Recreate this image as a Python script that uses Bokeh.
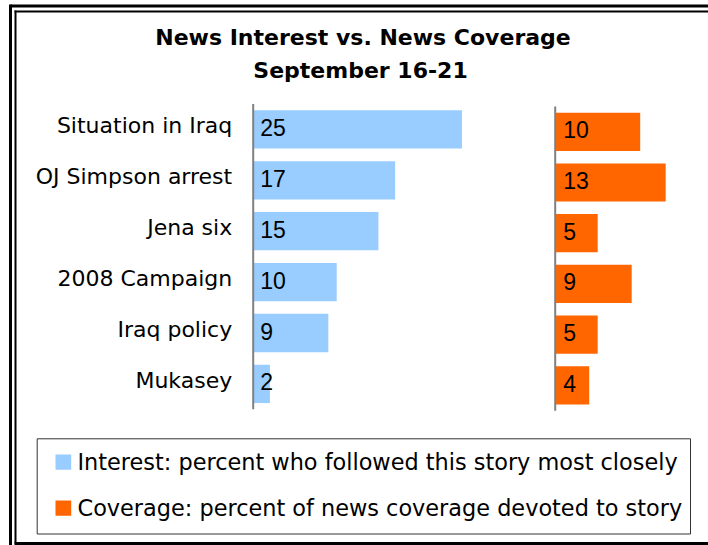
from bokeh.plotting import figure
from bokeh.models import Range1d, ColumnDataSource
from bokeh.core.properties import value
from bokeh.embed import file_html
from bokeh.resources import INLINE

# ---- data ----
categories = ["Situation in Iraq", "OJ Simpson arrest", "Jena six",
              "2008 Campaign", "Iraq policy", "Mukasey"]
interest = [25, 17, 15, 10, 9, 2]
coverage = [10, 13, 5, 9, 5, 4]
title_lines = ["News Interest vs. News Coverage", "September 16-21"]
legend_labels = ["Interest: percent who followed this story most closely",
                 "Coverage: percent of news coverage devoted to story"]

BLUE = "#99CCFF"
ORANGE = "#FF6600"
AXIS_GRAY = "#808080"

W, H = 708, 545
PX0, PY0 = 0, 0  # page position of the canvas' top-left corner
TXT_DY = -7      # correction for the renderer's text baseline placement


def xr(zero, ppu):
    return Range1d((PX0 - zero) / ppu, (PX0 + W - zero) / ppu)


def yr(c0, pitch):
    return Range1d((PY0 + H - c0) / pitch, (PY0 - c0) / pitch)


p = figure(width=W, height=H, x_range=xr(252.7, 8.35), y_range=yr(128.9, 50.9),
           output_backend="svg", toolbar_location=None,
           x_axis_type=None, y_axis_type=None, min_border=0,
           outline_line_color=None)
p.extra_x_ranges = {"rx": xr(554.7, 8.5), "px": Range1d(PX0, PX0 + W)}
p.extra_y_ranges = {"ry": yr(131.3, 50.7), "py": Range1d(PY0 + H, PY0)}

n = len(categories)
src = ColumnDataSource(dict(
    idx=list(range(n)), cat=categories,
    interest=interest, coverage=coverage,
    ilab=[str(v) for v in interest], clab=[str(v) for v in coverage]))

BAR_H = 0.753
p.hbar(y="idx", left=0, right="interest", height=BAR_H, source=src,
       fill_color=BLUE, line_color=None)
p.hbar(y="idx", left=0, right="coverage", height=BAR_H, source=src,
       fill_color=ORANGE, line_color=None, x_range_name="rx", y_range_name="ry")

# axis lines
p.segment(x0=[0], x1=[0], y0=[-0.5], y1=[n - 0.5], line_color=AXIS_GRAY, line_width=2)
p.segment(x0=[0], x1=[0], y0=[-0.5], y1=[n - 0.5], line_color=AXIS_GRAY, line_width=2,
          x_range_name="rx", y_range_name="ry")

# category labels
p.text(x=0, y="idx", text="cat", source=src, x_offset=-21, y_offset=3.5 + TXT_DY,
       text_align="right", text_baseline="alphabetic",
       text_font=value("DejaVu Sans"), text_font_size=value("22px"), text_color="black")

# value labels
p.text(x=0, y="idx", text="ilab", source=src, x_offset=7, y_offset=5 + TXT_DY,
       text_align="left", text_baseline="alphabetic",
       text_font=value("Liberation Sans"), text_font_size=value("23px"), text_color="black")
p.text(x=0, y="idx", text="clab", source=src, x_offset=8, y_offset=5 + TXT_DY,
       text_align="left", text_baseline="alphabetic",
       text_font=value("Liberation Sans"), text_font_size=value("23px"), text_color="black",
       x_range_name="rx", y_range_name="ry")

# title
p.text(x=[362.5, 360], y=[44.3, 77], text=title_lines, y_offset=TXT_DY,
       text_align="center", text_baseline="alphabetic",
       text_font=value("DejaVu Sans"), text_font_style="bold",
       text_font_size=value("22px"), text_color="black",
       x_range_name="px", y_range_name="py")

# legend
p.quad(left=[36.7], right=[690], top=[438.3], bottom=[533.5], fill_color=None,
       line_color="#333333", line_width=1, x_range_name="px", y_range_name="py")
p.quad(left=[55, 55], right=[70.7, 70.7], top=[454, 500], bottom=[469.3, 515.3],
       fill_color=[BLUE, ORANGE], line_color=None, x_range_name="px", y_range_name="py")
p.text(x=[77, 77], y=[468.3, 514], text=legend_labels, y_offset=TXT_DY,
       text_align="left", text_baseline="alphabetic",
       text_font=value("DejaVu Sans"), text_font_size=value("22.4px"), text_color="black",
       x_range_name="px", y_range_name="py")

# double frame
p.segment(x0=[10, 10], x1=[708, 10], y0=[5.5, 4], y1=[5.5, 545],
          line_color="black", line_width=3, x_range_name="px", y_range_name="py")
p.segment(x0=[14, 15], x1=[708, 15], y0=[11, 10], y1=[11, 543],
          line_color="black", line_width=2, x_range_name="px", y_range_name="py")
p.segment(x0=[14], x1=[708], y0=[543], y1=[543],
          line_color="black", line_width=3, x_range_name="px", y_range_name="py")

open("out.html", "w").write(file_html(p, INLINE))
